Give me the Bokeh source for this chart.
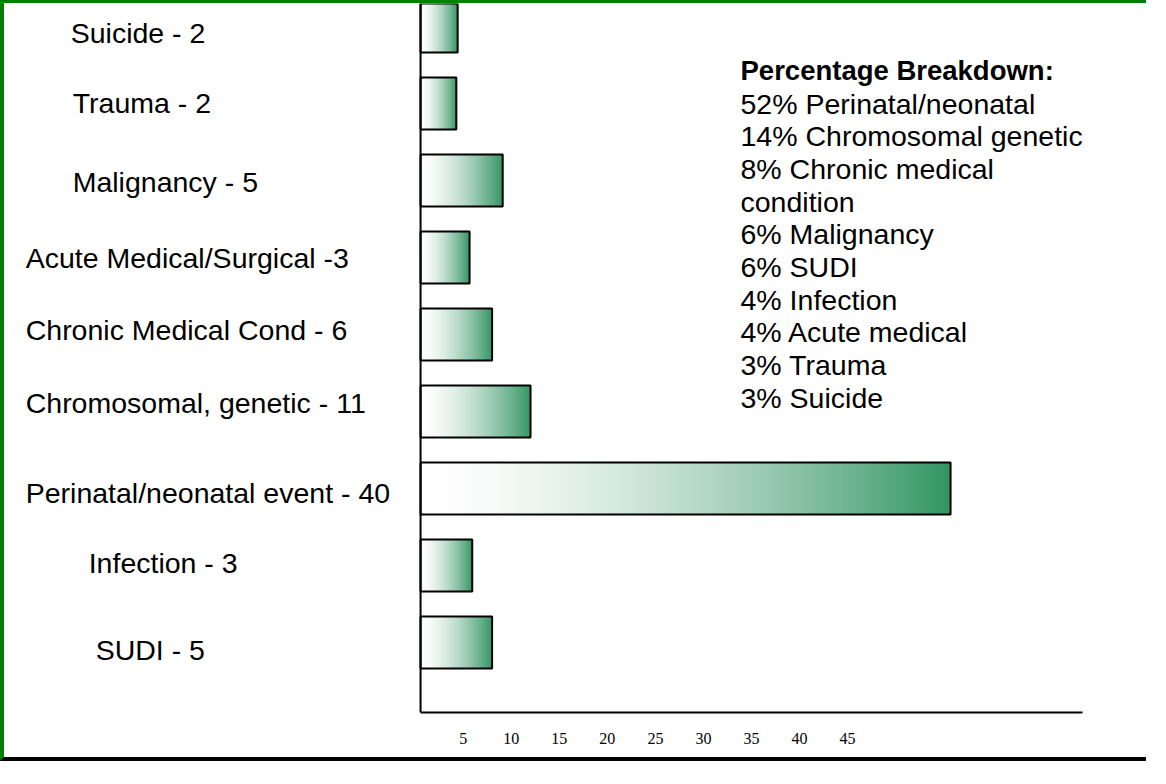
import numpy as np
from bokeh.plotting import figure
from bokeh.models import (Range1d, LinearAxis, FixedTicker, Span, Label,
                          ColumnDataSource)
from bokeh.core.properties import value
from bokeh.embed import file_html
from bokeh.resources import INLINE

# ---------------- data ----------------
categories = ["SUDI", "Infection", "Perinatal/neonatal event",
              "Chromosomal, genetic", "Chronic Medical Cond",
              "Acute Medical/Surgical", "Malignancy", "Trauma", "Suicide"]
label_texts = ["SUDI - 5", "Infection - 3", "Perinatal/neonatal event - 40",
               "Chromosomal, genetic - 11", "Chronic Medical Cond - 6",
               "Acute Medical/Surgical -3", "Malignancy - 5", "Trauma - 2",
               "Suicide - 2"]
bar_lengths = [5.4, 3.9, 40.0, 8.3, 5.4, 3.7, 6.2, 2.7, 2.8]
tick_values = [5, 10, 15, 20, 25, 30, 35, 40, 45]
breakdown_title = "Percentage Breakdown:"
breakdown_lines = ["52% Perinatal/neonatal", "14% Chromosomal genetic",
                   "8% Chronic medical", "condition", "6% Malignancy",
                   "6% SUDI", "4% Infection", "4% Acute medical",
                   "3% Trauma", "3% Suicide"]

# ---------------- style ----------------
label_indent_px = [70, 63, 0, 0, 0, 0, 47, 47, 45]
label_dy_px = [7, -3, 4, -9, -5, 0, 1, -1, 6]
GREEN = "#008000"
BAR_GREEN = (52, 150, 100)
FONT = "Liberation Sans"

ypos = list(range(len(categories)))
bar_h = 0.675

src = ColumnDataSource(dict(y=ypos, right=bar_lengths, cat=categories,
                            label=label_texts,
                            bottom=[v - bar_h / 2 for v in ypos],
                            indent=label_indent_px, dy=label_dy_px,
                            lx=[-29.8] * len(ypos)))

p = figure(width=1146, height=761, output_backend="svg", toolbar_location=None,
           x_range=Range1d(-31.40, 55.09), y_range=Range1d(-0.909, 8.299),
           min_border_left=0, min_border_right=0, min_border_top=0,
           min_border_bottom=52, x_axis_location=None, y_axis_location=None)
p.xgrid.visible = False
p.ygrid.visible = False
p.outline_line_color = None
p.background_fill_color = "white"
p.border_fill_color = "white"
p.styles = {"border-top": "3px solid #008000",
            "border-left": "4px solid #008000",
            "border-bottom": "4px solid #000000"}

# gradient image (white -> green) used for every bar
n = 256
t = np.linspace(0, 1, n)
f = t ** 1.6
img = np.empty((1, n), dtype=np.uint32)
view = img.view(dtype=np.uint8).reshape((1, n, 4))
view[0, :, 0] = (255 - f * (255 - BAR_GREEN[0])).astype(np.uint8)
view[0, :, 1] = (255 - f * (255 - BAR_GREEN[1])).astype(np.uint8)
view[0, :, 2] = (255 - f * (255 - BAR_GREEN[2])).astype(np.uint8)
view[0, :, 3] = 255

p.image_rgba(image=[img] * len(ypos), x=[0] * len(ypos), y=src.data["bottom"],
             dw=bar_lengths, dh=[bar_h] * len(ypos))
p.hbar(y="y", left=0, right="right", height=bar_h, source=src,
       fill_color=None, line_color="black", line_width=2)

# vertical axis line
p.add_layout(Span(location=0, dimension="height", line_color="black",
                  line_width=2))

# category labels
p.text(x="lx", y="y", text="label", x_offset="indent", y_offset="dy",
       source=src, text_font=value(FONT), text_font_size="28.5px",
       text_color="black", text_baseline="middle", text_align="left")

# bottom axis with tick labels
p.extra_x_ranges = {"ticks": Range1d(-42.73, 76.52)}
ax = LinearAxis(x_range_name="ticks", ticker=FixedTicker(ticks=tick_values),
                bounds=(0.56, 69.45))
ax.axis_line_color = "black"
ax.axis_line_width = 2
ax.major_tick_line_color = None
ax.minor_tick_line_color = None
ax.major_tick_out = 0
ax.major_tick_in = 0
ax.major_label_standoff = 20
ax.major_label_text_font = "Liberation Serif"
ax.major_label_text_font_size = "16px"
ax.major_label_text_color = "black"
p.add_layout(ax, "below")

# percentage breakdown
p.add_layout(Label(x=736, y=642, x_units="screen", y_units="screen",
                   text=breakdown_title, text_font=FONT, text_font_size="27.5px",
                   text_font_style="bold", text_baseline="middle",
                   text_color="black"))
p.add_layout(Label(x=736, y=625, x_units="screen", y_units="screen",
                   text="\n".join(breakdown_lines), text_font=FONT,
                   text_font_size="28.5px", text_baseline="top",
                   text_line_height=1.022, text_color="black"))

open("out.html", "w").write(file_html(p, INLINE))
